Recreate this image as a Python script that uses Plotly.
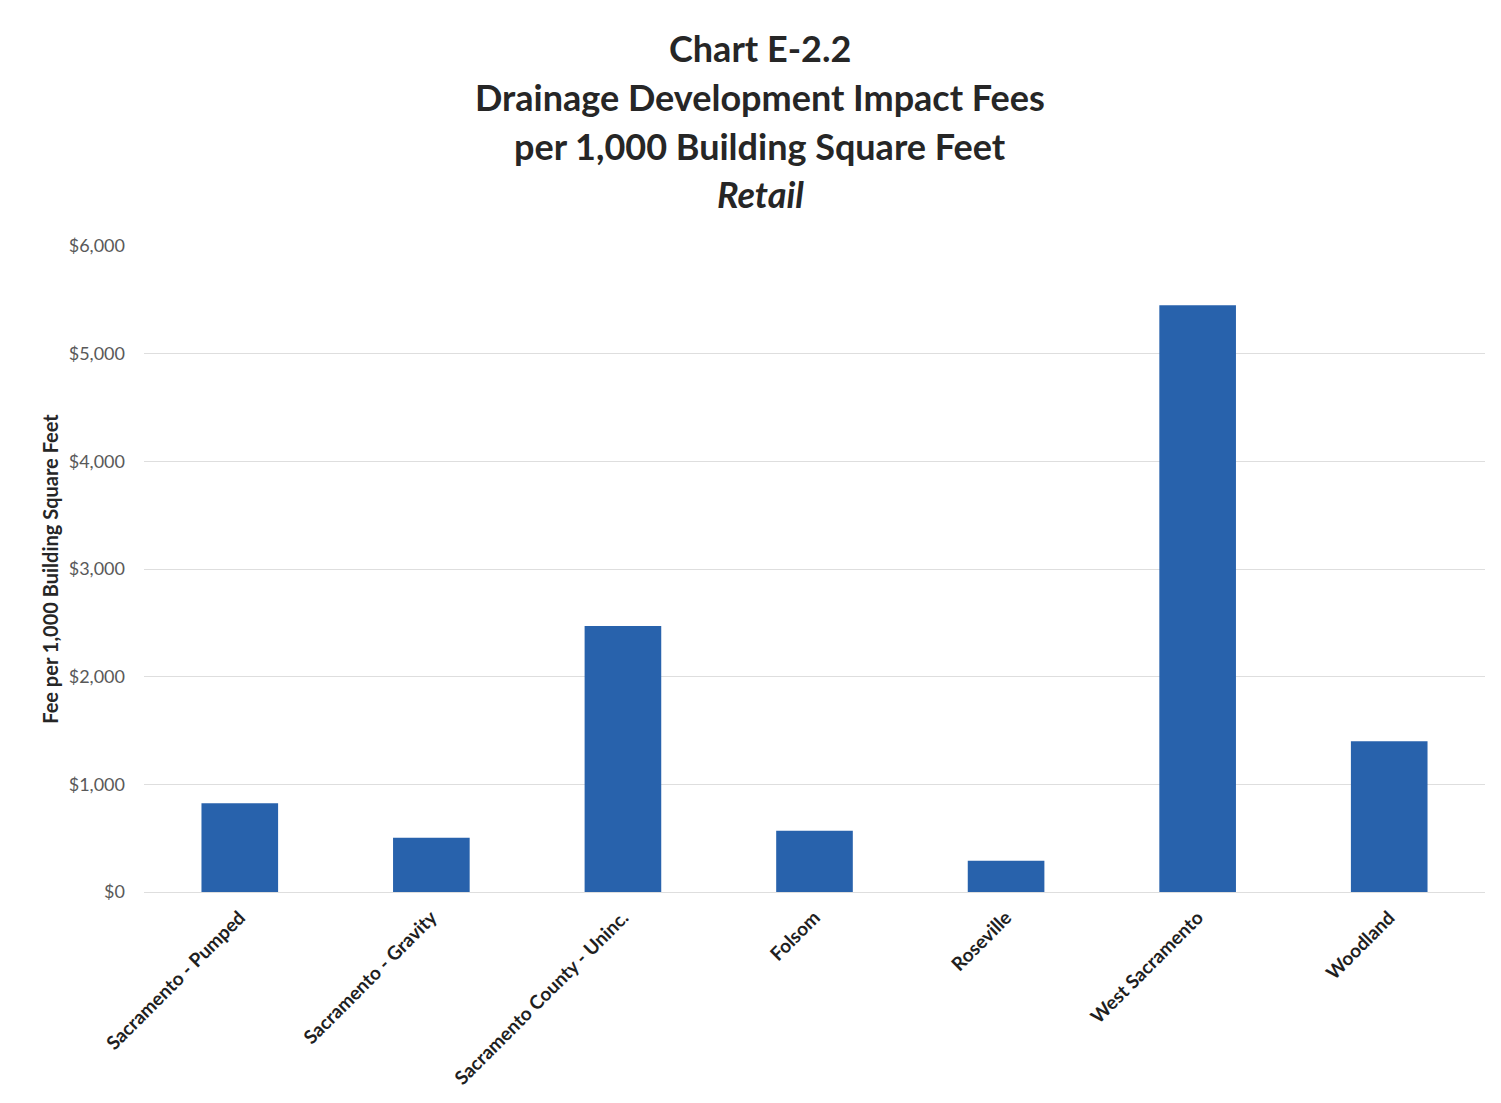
import plotly.graph_objects as go

# Drainage fees per 1,000 building square feet, retail
jurisdictions = [
    "Sacramento - Pumped",
    "Sacramento - Gravity",
    "Sacramento County - Uninc.",
    "Folsom",
    "Roseville",
    "West Sacramento",
    "Woodland",
]
fees = [825, 505, 2470, 570, 290, 5450, 1400]

y_ticks = [0, 1000, 2000, 3000, 4000, 5000, 6000]
y_tick_labels = ["$0", "$1,000", "$2,000", "$3,000", "$4,000", "$5,000", "$6,000"]

title_lines = [
    "Chart E-2.2",
    "Drainage Development Impact Fees",
    "per 1,000 Building Square Feet",
]
subtitle = "Retail"

FONT = "Lato"
BAR_COLOR = "#2862ac"

fig = go.Figure(
    go.Bar(
        x=jurisdictions,
        y=fees,
        marker=dict(color=BAR_COLOR, line=dict(width=0)),
        width=0.4,
    )
)

fig.update_layout(
    width=1501,
    height=1103,
    margin=dict(l=144, r=16, t=246, b=211),
    paper_bgcolor="white",
    plot_bgcolor="white",
    showlegend=False,
    font=dict(family=FONT, color="#262626"),
)

fig.update_yaxes(
    range=[0, 6000],
    tickvals=y_ticks,
    ticktext=y_tick_labels,
    tickfont=dict(family=FONT, size=18, color="#595959"),
    ticklabelstandoff=18,
    showgrid=True,
    gridcolor="#dedede",
    gridwidth=1,
    zeroline=False,
    showline=False,
    title=dict(
        text="Fee per 1,000 Building Square Feet",
        font=dict(family=FONT, size=20, color="#262626", weight="bold"),
        standoff=4,
    ),
)

fig.update_xaxes(
    tickangle=-45,
    tickfont=dict(family=FONT, size=19, color="#1f1f1f", weight="bold"),
    ticklabelstandoff=6,
    showline=True,
    linecolor="#dedede",
    linewidth=1,
    showgrid=False,
    ticks="",
)

# Title block: three bold lines and an italic subtitle
title_y = [48, 97, 146]
for text, ypx in zip(title_lines, title_y):
    fig.add_annotation(
        text=f"<b>{text}</b>",
        x=760, y=ypx, xref="paper", yref="paper",
        showarrow=False,
        font=dict(family=FONT, size=36, color="#262626"),
    )
fig.add_annotation(
    text=f"<b><i>{subtitle}</i></b>",
    x=760, y=194, xref="paper", yref="paper",
    showarrow=False,
    font=dict(family=FONT, size=36, color="#262626"),
)

# convert the pixel positions of the title annotations to paper coordinates
plot_w = 1501 - 144 - 16
plot_h = 1103 - 246 - 211
for ann in fig.layout.annotations:
    px, py = ann.x, ann.y
    ann.x = (px - 144) / plot_w
    ann.y = (1103 - 211 - py) / plot_h
    ann.xanchor = "center"
    ann.yanchor = "middle"

fig.write_html("out.html")
